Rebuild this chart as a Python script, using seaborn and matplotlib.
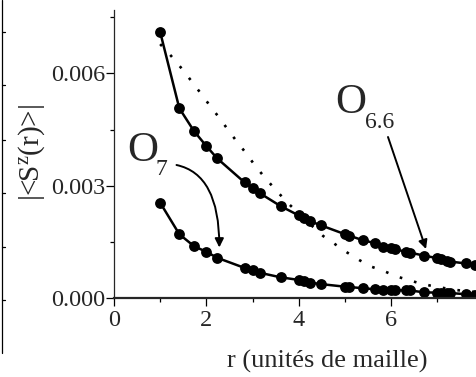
import matplotlib
matplotlib.use("Agg")
import matplotlib.pyplot as plt
from matplotlib.lines import Line2D
from matplotlib.ticker import FixedLocator, FixedFormatter
import seaborn as sns
import pandas as pd

# ---------------- data ----------------
r_sites = [1, 1.414, 1.732, 2, 2.236, 2.828, 3, 3.162, 3.606, 4, 4.123, 4.243,
           4.472, 5, 5.099, 5.385, 5.657, 5.831, 6, 6.083, 6.325, 6.403, 6.708,
           7, 7.071, 7.211, 7.28, 7.616, 7.81]
sz_O66 = [0.00710, 0.00507, 0.00446, 0.00406, 0.00373, 0.00309, 0.00293, 0.00280,
          0.00246, 0.00221, 0.00213, 0.00206, 0.00195, 0.00171, 0.00167, 0.00155,
          0.00147, 0.00138, 0.00133, 0.00131, 0.00124, 0.00122, 0.00114, 0.00107,
          0.00105, 0.00100, 0.00098, 0.00093, 0.00089]
sz_O7 = [0.00255, 0.00171, 0.00139, 0.00124, 0.00108, 0.00081, 0.00075, 0.00068,
         0.00056, 0.00049, 0.00045, 0.00042, 0.00038, 0.00031, 0.00030, 0.00027,
         0.00024, 0.00023, 0.00022, 0.00022, 0.00021, 0.00021, 0.00016, 0.00015,
         0.00015, 0.00014, 0.00014, 0.00011, 0.00010]
# dotted reference curve
r_dot = [1.0, 1.24, 1.465, 1.673, 1.877, 2.07, 2.27, 2.46, 2.66, 2.86, 3.06, 3.28,
         3.51, 3.75, 4.0, 4.27, 4.53, 4.79, 5.05, 5.31, 5.58, 5.84, 6.10, 6.37,
         6.62, 6.88, 7.16, 7.42, 7.7, 7.9]
sz_dot = [0.00678, 0.00646, 0.00613, 0.00580, 0.00547, 0.00515, 0.00483, 0.00451,
          0.00418, 0.00387, 0.00353, 0.00320, 0.00288, 0.00256, 0.00226, 0.00195,
          0.00166, 0.00144, 0.00122, 0.00102, 0.00084, 0.00073, 0.00059, 0.00049,
          0.00040, 0.00033, 0.00027, 0.00022, 0.00018, 0.00016]
y_ticks = [0.000, 0.003, 0.006]
y_tick_labels = ["0.000", "0.003", "0.006"]
x_ticks = [0, 2, 4, 6]
x_tick_labels = ["0", "2", "4", "6"]

# ---------------- style ----------------
sns.set_style("ticks")
plt.rcParams["font.family"] = ["Liberation Serif", "DejaVu Serif"]
plt.rcParams["mathtext.fontset"] = "custom"
plt.rcParams["mathtext.rm"] = "Liberation Serif"
plt.rcParams["mathtext.it"] = "Liberation Serif:italic"

W, H = 477, 377
fig = plt.figure(figsize=(W / 100, H / 100), dpi=100)
ax = fig.add_axes([114 / W, 78.7 / H, (W - 114) / W, 288.3 / H])


def P(x, y):
    """pixel (from top-left) -> figure fraction"""
    return (x / W, 1 - y / H)


df_a = pd.DataFrame({"r": r_sites, "s": sz_O66})
df_b = pd.DataFrame({"r": r_sites, "s": sz_O7})
df_d = pd.DataFrame({"r": r_dot, "s": sz_dot})

sns.lineplot(data=df_d, x="r", y="s", ax=ax, color="black", linewidth=1.9,
             linestyle=(0, (1, 4.6)), estimator=None, sort=False)
for d in (df_a, df_b):
    sns.lineplot(data=d, x="r", y="s", ax=ax, color="black", linewidth=1.8,
                 marker="o", markersize=7.8, markeredgewidth=0,
                 markerfacecolor="black", estimator=None, sort=False)

ax.set_xlim(0, 7.86)
ax.set_ylim(0, 0.00769)
ax.set_xlabel("")
ax.set_ylabel("")

ax.yaxis.set_major_locator(FixedLocator(y_ticks))
ax.yaxis.set_major_formatter(FixedFormatter(y_tick_labels))
ax.yaxis.set_minor_locator(FixedLocator([0.0015, 0.0045, 0.0075]))
ax.xaxis.set_major_locator(FixedLocator(x_ticks))
ax.xaxis.set_major_formatter(FixedFormatter(x_tick_labels))
ax.xaxis.set_minor_locator(FixedLocator([1, 3, 5, 7]))

for s in ("top", "right"):
    ax.spines[s].set_visible(False)
ax.spines["left"].set_linewidth(0.9)
ax.spines["bottom"].set_linewidth(1.6)
ax.tick_params(axis="both", which="major", direction="out", length=5.5,
               width=0.9, labelsize=17.5, color="black")
ax.tick_params(axis="both", which="minor", direction="out", length=3,
               width=0.9, color="black")
ax.tick_params(axis="y", which="major", pad=1)
ax.tick_params(axis="x", which="major", pad=3)

# axis titles
fig.text(*P(32, 152), "|<S$^{\\mathrm{z}}$(r)>|", rotation=90, ha="center",
         va="center", fontsize=21)
fig.text(*P(327, 368), "r (unités de maille)", ha="center", va="baseline",
         fontsize=19)

# curve labels
fig.text(*P(127, 161), "O", ha="left", va="baseline", fontsize=31)
fig.text(*P(156, 175), "7", ha="left", va="baseline", fontsize=17)
fig.text(*P(335, 113), "O", ha="left", va="baseline", fontsize=31)
fig.text(*P(365, 128), "6.6", ha="left", va="baseline", fontsize=17)

# arrows
ax.annotate("", xy=(219.3, H - 247.5), xycoords="figure pixels",
            xytext=(176.5, H - 165), textcoords="figure pixels",
            arrowprops=dict(arrowstyle="-|>", color="black", lw=1.4,
                            mutation_scale=13, shrinkA=0, shrinkB=0,
                            connectionstyle="angle3,angleA=-12,angleB=90"))
ax.annotate("", xy=(426, H - 249), xycoords="figure pixels",
            xytext=(388, H - 137), textcoords="figure pixels",
            arrowprops=dict(arrowstyle="-|>", color="black", lw=1.4,
                            mutation_scale=13, shrinkA=0, shrinkB=0))

# frame edge of the neighbouring panel at the left border
fig.add_artist(Line2D([1.5 / W, 1.5 / W], [1, 1 - 353 / H], color="black",
                      lw=0.9, transform=fig.transFigure))
for yy in (32, 85, 140, 193, 247, 300):
    fig.add_artist(Line2D([1.5 / W, 5 / W], [1 - yy / H, 1 - yy / H],
                          color="black", lw=0.9, transform=fig.transFigure))

fig.savefig("out.png", dpi=100)
